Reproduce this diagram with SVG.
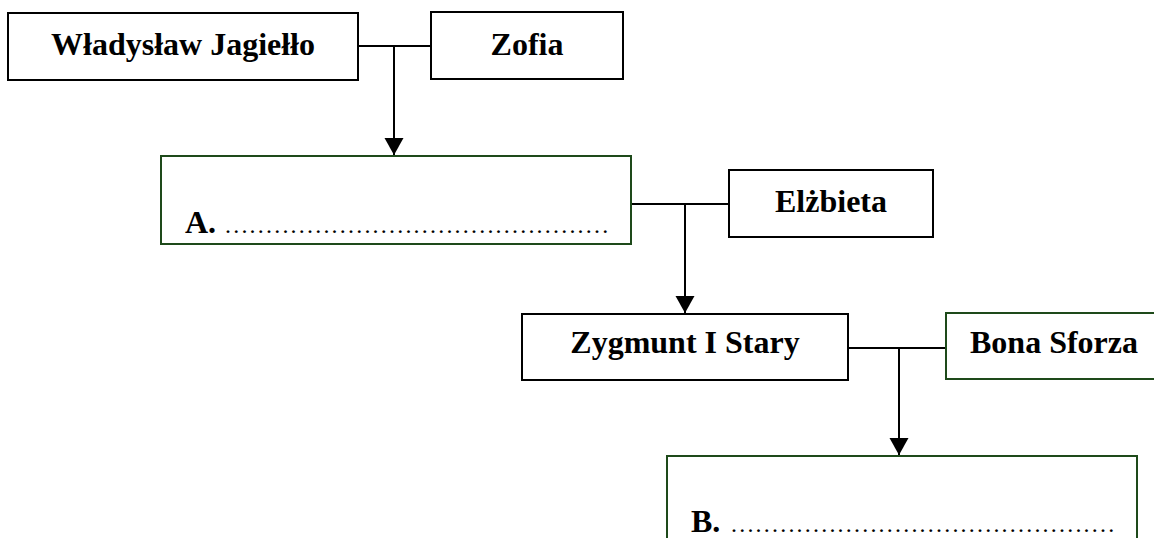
<svg xmlns="http://www.w3.org/2000/svg" width="1154" height="538" viewBox="0 0 1154 538">
<style>
.bk{fill:#fff;stroke:#000;stroke-width:2}
.gr{fill:#fff;stroke:#1e4a1a;stroke-width:2}
.t{font-family:"Liberation Serif","Times New Roman",serif;font-weight:bold;font-size:32px;fill:#000}
.d{font-family:"Liberation Serif","Times New Roman",serif;font-size:24px;letter-spacing:2.2px;fill:#000}
.ln{fill:none;stroke:#000;stroke-width:2}
</style>
<defs>
<marker id="arr" markerUnits="userSpaceOnUse" markerWidth="18" markerHeight="20" refX="17" refY="9.5" orient="auto">
<path d="M0,0 L17,9.5 L0,19 Z" fill="#000"/>
</marker>
</defs>
<rect width="1154" height="538" fill="#fff"/>
<g id="connectors">
<path class="ln" d="M358,46 H431 M394,46 V155" marker-end="url(#arr)"/>
<path class="ln" d="M631,204 H729 M685,204 V313" marker-end="url(#arr)"/>
<path class="ln" d="M848,348 H946 M899,348 V455" marker-end="url(#arr)"/>
</g>
<g id="wladyslaw">
<rect class="bk" x="8" y="13" width="350" height="67"/>
<text class="t" x="183" y="55" text-anchor="middle">Władysław Jagiełło</text>
</g>
<g id="zofia">
<rect class="bk" x="431" y="12" width="192" height="67"/>
<text class="t" x="527" y="55" text-anchor="middle">Zofia</text>
</g>
<g id="a">
<rect class="gr" x="161" y="156" width="470" height="88"/>
<text class="t" x="185" y="233">A.</text>
<text class="d" x="225" y="233">...............................................</text>
</g>
<g id="elzbieta">
<rect class="bk" x="729" y="170" width="204" height="67"/>
<text class="t" x="831" y="212" text-anchor="middle">Elżbieta</text>
</g>
<g id="zygmunt">
<rect class="bk" x="522" y="314" width="326" height="66"/>
<text class="t" x="685" y="353" text-anchor="middle">Zygmunt I Stary</text>
</g>
<g id="bona">
<rect class="gr" x="946" y="313" width="220" height="66"/>
<text class="t" x="970" y="353">Bona Sforza</text>
</g>
<g id="b">
<rect class="gr" x="667" y="456" width="470" height="100"/>
<text class="t" x="691" y="532">B.</text>
<text class="d" x="731" y="532">...............................................</text>
</g>
</svg>
